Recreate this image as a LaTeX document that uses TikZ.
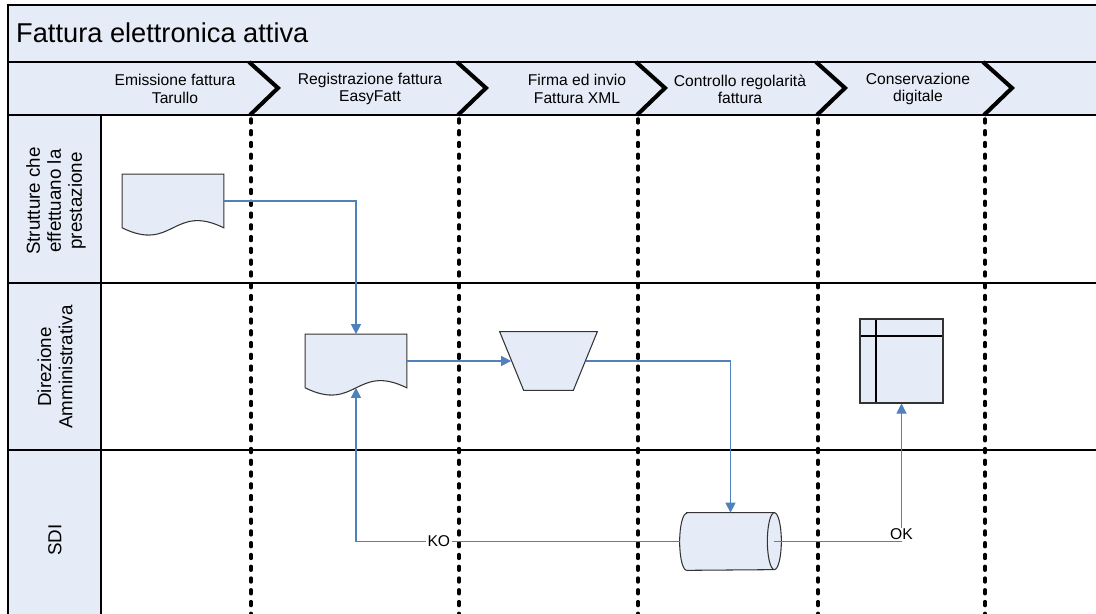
\documentclass[tikz,border=0pt]{standalone}
\usepackage{fontspec}
\setmainfont{Liberation Sans}
\usetikzlibrary{arrows.meta}

\definecolor{laneblue}{RGB}{230,236,247}
\definecolor{flowblue}{RGB}{79,129,189}

\tikzset{
  phase/.style={align=center, font=\fontsize{8.9}{9.8}\selectfont},
  lanelabel/.style={rotate=90, align=center, font=\fontsize{10.7}{12}\selectfont},
  stepline/.style={line width=2.3pt, line join=miter},
  phaseline/.style={line width=2pt, dash pattern=on 2.2pt off 4.5pt, line cap=round},
  docbox/.style={inner sep=0pt, minimum width=2.02cm, minimum height=1.06cm},
  shapeline/.style={draw=black!80, fill=laneblue, line width=0.6pt},
  flow/.style={draw=flowblue, line width=0.6pt, -{Triangle[length=5.7pt,width=5.7pt]}},
  flowlabel/.style={fill=white, inner sep=1pt, font=\fontsize{8.9}{10}\selectfont},
}

\begin{document}
\begin{tikzpicture}[x=0.02cm, y=-0.02cm]
\useasboundingbox (0,0) rectangle (1096,614);

% pool and lanes
\fill[laneblue] (8,5) rectangle (1096,115);
\fill[laneblue] (8,115) rectangle (101,614);
\draw[line width=0.8pt] (1096,5) -- (8,5) -- (8,614);
\draw[line width=0.8pt] (8,62) -- (1096,62) (8,115) -- (1096,115)
  (8,283) -- (1096,283) (8,450) -- (1096,450) (101,115) -- (101,614);
\node[anchor=west, font=\fontsize{15.5}{18}\selectfont] (title) at (10,33) {Fattura elettronica attiva};

% phases
\foreach \x in {251,459,638,818,985} {
  \draw[stepline] (\x-2,62) -- (\x+27,88) -- (\x-1,115);
  \draw[phaseline] (\x,119) -- (\x,614);
}
\node[phase] (emissionelbl) at (175,89) {Emissione fattura\\Tarullo};
\node[phase] (registrazionelbl) at (370,89) {Registrazione fattura\\EasyFatt};
\node[phase] (firmalbl) at (577,89) {Firma ed invio\\Fattura XML};
\node[phase] (controllolbl) at (740,89) {Controllo regolarità\\fattura};
\node[phase] (conservazionelbl) at (918,89) {Conservazione\\digitale};

\node[lanelabel] (strutture) at (56,201) {Strutture che\\effettuano la\\prestazione};
\node[lanelabel] (direzione) at (55,367) {Direzione\\Amministrativa};
\node[lanelabel] (sdi) at (55,540) {SDI};

% documents
\node[docbox] (emissione) at (173,201) {};
\draw[shapeline] (emissione.north west) -- (emissione.north east) -- (emissione.south east)
  .. controls ([yshift=0.5cm]emissione.south) and ([yshift=-0.5cm]emissione.south) .. (emissione.south west) -- cycle;
\node[docbox] (registrazione) at (356,361) {};
\draw[shapeline] (registrazione.north west) -- (registrazione.north east) -- (registrazione.south east)
  .. controls ([yshift=0.5cm]registrazione.south) and ([yshift=-0.5cm]registrazione.south) .. (registrazione.south west) -- cycle;

% manual operation
\node[inner sep=0pt, minimum width=1.94cm, minimum height=1.16cm] (firma) at (548.5,361) {};
\draw[shapeline] (firma.north west) -- (firma.north east) -- ([xshift=-0.48cm]firma.south east)
  -- ([xshift=0.48cm]firma.south west) -- cycle;

% stored data
\node[inner sep=0pt, minimum width=1.74cm, minimum height=1.14cm] (controllo) at (730.5,541.5) {};
\draw[shapeline] (controllo.north west) -- (controllo.north east)
  arc[start angle=90, end angle=-90, x radius=0.14cm, y radius=0.57cm] -- (controllo.south west)
  arc[start angle=270, end angle=90, x radius=0.14cm, y radius=0.57cm] -- cycle;
\draw[black!80, line width=0.6pt] (controllo.north east)
  arc[start angle=90, end angle=270, x radius=0.14cm, y radius=0.57cm];

% internal storage
\node[rectangle, minimum width=1.66cm, minimum height=1.68cm, inner sep=0pt, shapeline,
  path picture={
    \draw[black, line width=0.6pt] ([xshift=0.32cm]path picture bounding box.north west) -- ([xshift=0.32cm]path picture bounding box.south west);
    \draw[black, line width=0.6pt] ([yshift=-0.34cm]path picture bounding box.north west) -- ([yshift=-0.34cm]path picture bounding box.north east);
  }] (conservazione) at (901.5,361) {};

% flows
\draw[flow] (emissione.east) -| (registrazione.north);
\draw[flow] (registrazione.east) -- ([xshift=0.23cm]firma.west);
\draw[flow] ([xshift=-0.23cm]firma.east) -| (controllo.north);
\draw[flow] ([xshift=-0.14cm]controllo.west) -| node[flowlabel, pos=0.372] (ko) {KO} (registrazione.south);
\draw[flow] (controllo.east) -| node[flowlabel, pos=0.5, anchor=south, inner sep=0.5pt] (ok) {OK} (conservazione.south);
\end{tikzpicture}
\end{document}
